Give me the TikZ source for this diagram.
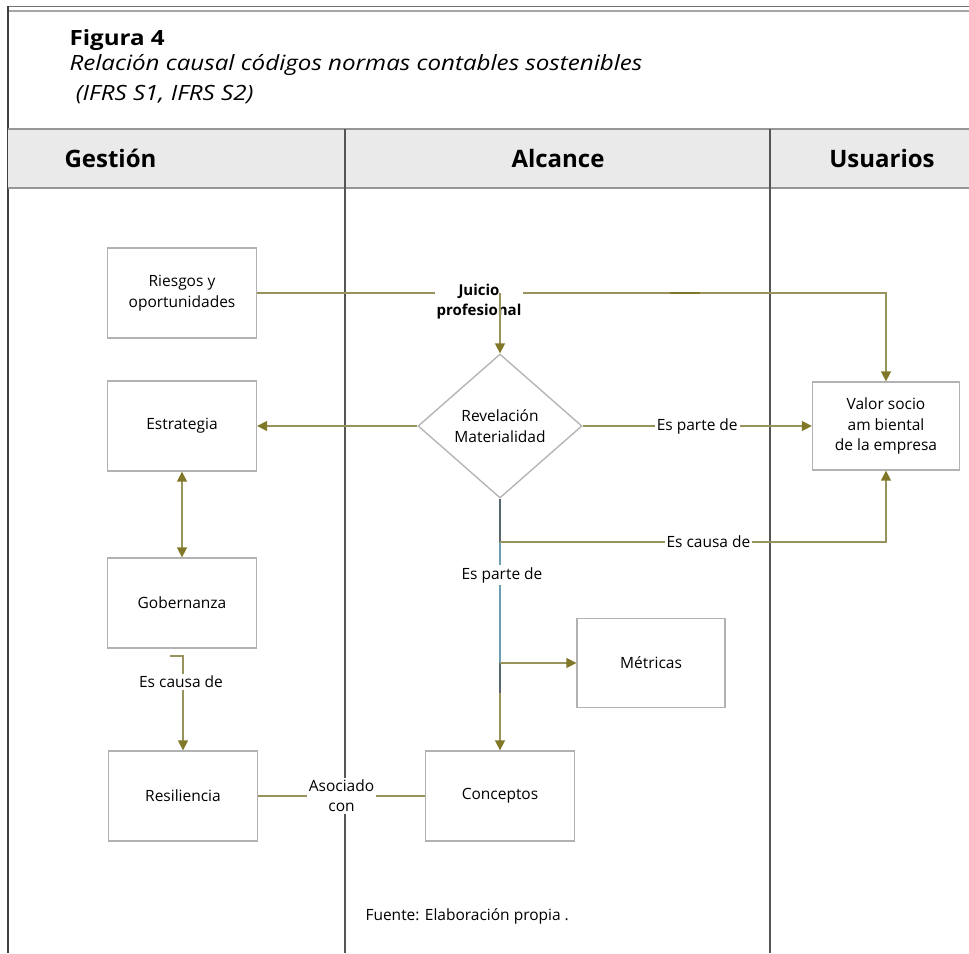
\documentclass[tikz,border=0pt]{standalone}
\usepackage{fontspec}
\setmainfont{Open Sans}
\newfontfamily\capfont{Open Sans}[FakeStretch=1.15]
\usetikzlibrary{arrows.meta,shapes.geometric}

\definecolor{linkcol}{RGB}{152,146,92}
\definecolor{tipcol}{RGB}{128,120,40}
\definecolor{boxgray}{RGB}{178,178,178}
\definecolor{lanegray}{RGB}{85,85,85}
\definecolor{headfill}{RGB}{234,234,234}
\definecolor{headrule}{RGB}{150,150,150}
\definecolor{stemdark}{RGB}{88,104,110}
\definecolor{stemblue}{RGB}{108,157,176}

\tikzset{
  box/.style={draw=boxgray, line width=1.3pt, fill=white, minimum width=149pt,
    minimum height=90pt, align=center, inner sep=2pt,
    font=\fontsize{15.5}{20.5}\selectfont},
  decision/.style={diamond, draw=boxgray, line width=1.3pt, fill=white,
    minimum width=164pt, minimum height=144pt, inner sep=0pt, align=center,
    font=\fontsize{15.5}{20.5}\selectfont},
  link/.style={draw=linkcol, line width=1.5pt},
  arr/.style={link, -{Triangle[length=10pt,width=10pt,color=tipcol]}},
  lbl/.style={fill=white, inner sep=2pt, align=center,
    font=\fontsize{15.5}{20}\selectfont},
  lane/.style={draw=lanegray, line width=1.3pt},
  headtext/.style={font=\fontsize{24}{28}\selectfont\bfseries}
}

\begin{document}
\begin{tikzpicture}[x=1pt,y=-1pt]
\useasboundingbox (0,0) rectangle (969,953);
\fill[white] (0,0) rectangle (969,953);

% frame: double rule on top, rule on the left
\draw[color=gray!90!black, line width=1pt] (8,6) -- (969,6);
\draw[color=gray!70, line width=1.8pt] (8,11) -- (969,11);
\draw[color=black!75, line width=1.3pt] (8,6) -- (8,953);

% caption
\node[anchor=base west, font=\capfont\fontsize{21}{26}\selectfont\bfseries] (fig) at (66,45) {Figura 4};
\node[anchor=base west, font=\capfont\fontsize{21}{26}\selectfont\itshape] (cap1) at (66,70)
  {Relación causal códigos normas contables sostenibles};
\node[anchor=base west, font=\capfont\fontsize{21}{26}\selectfont\itshape] (cap2) at (66,100)
  {\ (IFRS S1, IFRS S2)};

% lane header band
\fill[headfill] (8,129) rectangle (969,188);
\draw[headrule, line width=1.8pt] (8,129) -- (969,129);
\draw[headrule, line width=1.8pt] (8,188) -- (969,188);
\node[headtext, anchor=west] (hg) at (61,158) {Gestión};
\node[headtext] (ha) at (558,158) {Alcance};
\node[headtext] (hu) at (882,158) {Usuarios};

% lane dividers
\draw[lane] (345,129) -- (345,953);
\draw[lane] (770,129) -- (770,953);

% process nodes
\node[box] (ries) at (182,293) {Riesgos y\\oportunidades};
\node[box] (estr) at (182,426) {Estrategia};
\node[box] (gob) at (182,603) {Gobernanza};
\node[box] (res) at (183,796) {Resiliencia};
\node[box] (conc) at (500,796) {Conceptos};
\node[box, minimum width=148pt, minimum height=89pt] (met) at (651,663) {Métricas};
\node[box, minimum width=147pt, minimum height=88pt] (valor) at (886,426) {Valor socio\\am biental\\de la empresa};
\node[decision] (diam) at (500,426) {Revelación\\Materialidad};

% junction points
\coordinate (jt) at (diam.north |- ries.east);
\coordinate (cb) at (500,542);
\coordinate (mb) at (500,663);
\coordinate (hook) at (170,656);

% Riesgos y oportunidades -> Valor, with branch into the decision
\draw[arr] (ries.east) -| (valor.north);
\draw[color=tipcol, line width=2.6pt] (670,293) -- (700,293);
\node[lbl, font=\fontsize{15}{20}\selectfont\bfseries] (juicio) at (479,302) {Juicio\\profesional};
\draw[arr] (jt) -- (diam.north);

% decision outputs
\draw[arr] (diam.west) -- (estr.east);
\draw[arr] (diam.east) -- node[lbl] (ep1) {Es parte de} (valor.west);
\draw[arr] (diam.south) -- (conc.north);
\draw[color=stemdark, line width=1.5pt] (diam.south) -- (cb);
\draw[color=stemblue, line width=1.5pt] (cb) -- (mb);
\draw[color=stemdark, line width=1.5pt] (mb) -- ++(0,30);
\draw[arr] (cb) -- node[lbl, pos=0.54] (ec1) {Es causa de} (cb -| valor.south) -- (valor.south);
\node[lbl] (ep2) at (502,575) {Es parte de};
\draw[arr] (mb) -- (met.west);

% management lane
\draw[link, {Triangle[length=10pt,width=10pt,color=tipcol]}-{Triangle[length=10pt,width=10pt,color=tipcol]}] (estr.south) -- (gob.north);
\draw[arr] (hook) -| (res.north);
\node[lbl] (ec2) at (181,682) {Es causa de};
\draw[link] (res.east) -- node[lbl] (asoc) {Asociado\\con} (conc.west);

% source note
\node[anchor=base west, font=\fontsize{15.5}{19}\selectfont] (src) at (362,920) {Fuente: Elaboración propia .};
\end{tikzpicture}
\end{document}
